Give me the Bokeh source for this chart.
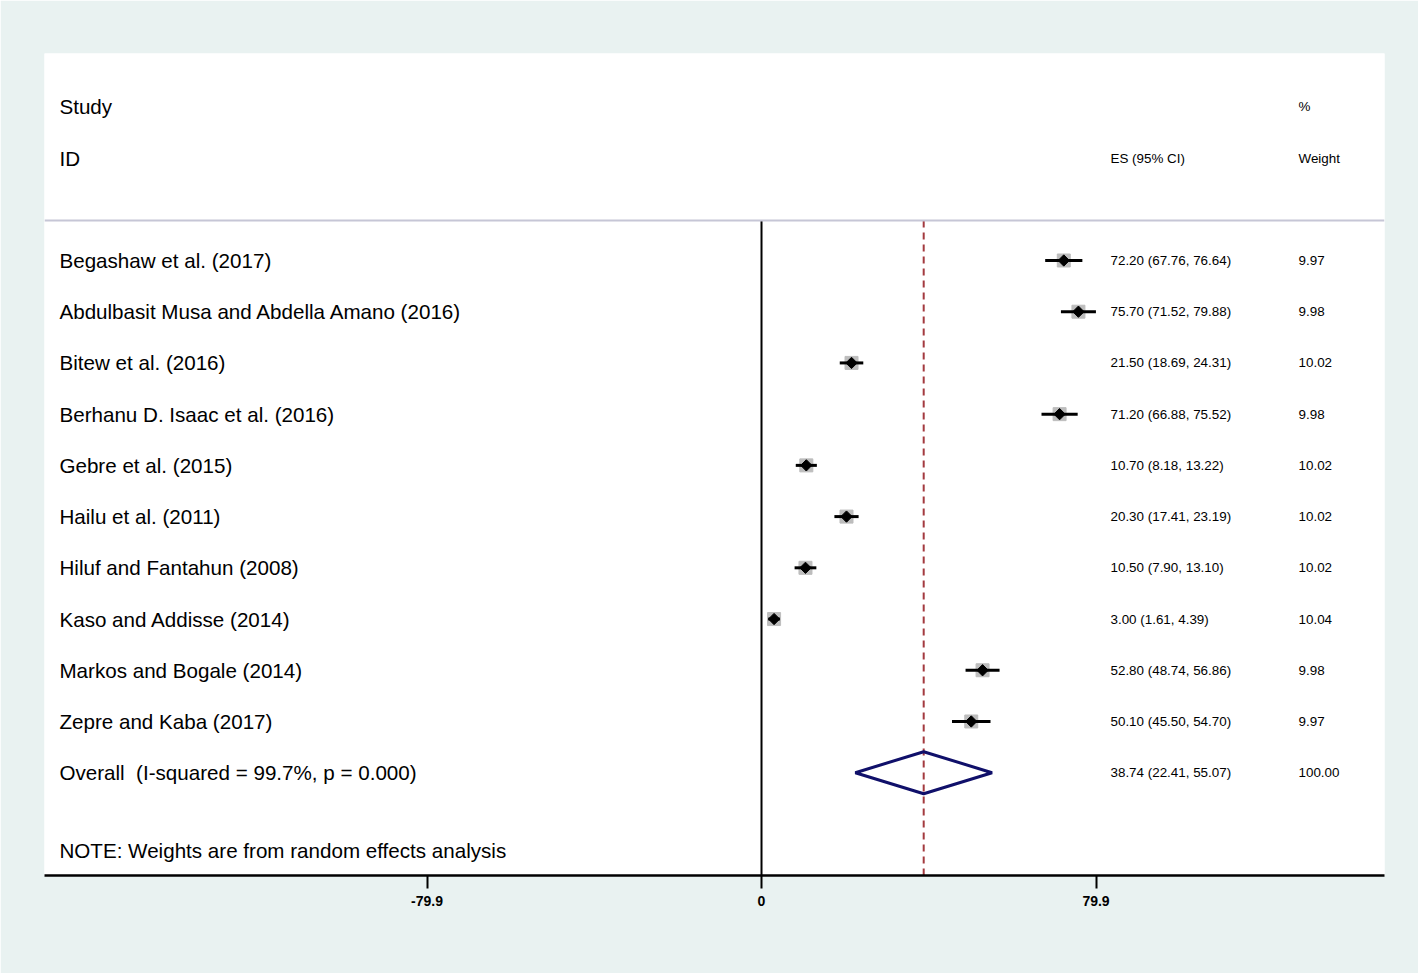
from bokeh.plotting import figure
from bokeh.models import Range1d, FixedTicker, Span, ColumnDataSource
from bokeh.core.properties import value
from bokeh.embed import file_html
from bokeh.resources import INLINE

# ---- data ----
studies = [
    "Begashaw et al. (2017)",
    "Abdulbasit Musa and Abdella Amano (2016)",
    "Bitew et al. (2016)",
    "Berhanu D. Isaac et al. (2016)",
    "Gebre et al. (2015)",
    "Hailu et al. (2011)",
    "Hiluf and Fantahun (2008)",
    "Kaso and Addisse (2014)",
    "Markos and Bogale (2014)",
    "Zepre and Kaba (2017)",
]
es = [72.20, 75.70, 21.50, 71.20, 10.70, 20.30, 10.50, 3.00, 52.80, 50.10]
lo = [67.76, 71.52, 18.69, 66.88, 8.18, 17.41, 7.90, 1.61, 48.74, 45.50]
hi = [76.64, 79.88, 24.31, 75.52, 13.22, 23.19, 13.10, 4.39, 56.86, 54.70]
weights = [9.97, 9.98, 10.02, 9.98, 10.02, 10.02, 10.02, 10.04, 9.98, 9.97]

overall_label = "Overall\u00a0 (I-squared = 99.7%, p = 0.000)"
overall_es, overall_lo, overall_hi, overall_w = 38.74, 22.41, 55.07, 100.00
note = "NOTE: Weights are from random effects analysis"
tick_values = [-79.9, 0, 79.9]
tick_labels = ["-79.9", "0", "79.9"]

# ---- layout helpers ----
rows = list(range(1, len(studies) + 1))
overall_row = len(studies) + 1
note_row = overall_row + 1.52
sep_row = 0.22
bottom_row = 13.007
x_label = -167.7
x_es = 83.36
x_w = 128.27
FONT = value("Liberation Sans")
BIG = "20.6px"
SMALL = "13.4px"

p = figure(width=1418, height=973, output_backend="svg", toolbar_location=None,
           x_range=Range1d(-171.27, 148.81), y_range=Range1d(bottom_row, -3.041),
           y_axis_location=None, min_border_left=44, min_border_right=34,
           min_border_top=53, min_border_bottom=98)
p.background_fill_color = "white"
p.border_fill_color = "#e9f2f1"
p.outline_line_color = None
p.xgrid.visible = False
p.ygrid.visible = False

ax = p.xaxis[0]
ax.ticker = FixedTicker(ticks=tick_values)
ax.major_label_overrides = {t: s for t, s in zip(tick_values, tick_labels)}
ax.minor_tick_line_color = None
ax.axis_line_width = 2.5
ax.axis_line_color = "black"
ax.major_tick_line_width = 2
ax.major_tick_out = 13
ax.major_tick_in = 0
ax.major_label_standoff = 7
ax.major_label_text_font = "Liberation Sans Narrow, Liberation Sans"
ax.major_label_text_font_style = "bold"
ax.major_label_text_font_size = "14px"
ax.major_label_text_color = "black"

# separator line
p.add_layout(Span(location=sep_row, dimension="width", line_color="#c6c6d6", line_width=2))

# null line at 0 and overall dashed line
p.segment(x0=[0], y0=[sep_row], x1=[0], y1=[bottom_row], line_color="black", line_width=2)
p.segment(x0=[overall_es], y0=[sep_row], x1=[overall_es], y1=[bottom_row],
          line_color="#a33a3f", line_width=2, line_dash="7 5")

src = ColumnDataSource(dict(
    y=rows, es=es, lo=lo, hi=hi, study=studies,
    size=[13 * (w / 10) ** 0.5 for w in weights],
    estxt=[f"{e:.2f} ({l:.2f}, {h:.2f})" for e, l, h in zip(es, lo, hi)],
    wtxt=[f"{w:.2f}" for w in weights],
    xl=[x_label] * len(studies), xe=[x_es] * len(studies), xw=[x_w] * len(studies),
))

p.scatter(x="es", y="y", size="size", marker="square", color="#bdbdbd", source=src)
p.segment(x0="lo", y0="y", x1="hi", y1="y", line_color="black", line_width=3, source=src)
p.scatter(x="es", y="y", size=8, marker="square", angle=0.785398, color="black", source=src)

# overall diamond
h = 0.41
p.patch(x=[overall_lo, overall_es, overall_hi, overall_es],
        y=[overall_row, overall_row - h, overall_row, overall_row + h],
        fill_color="white", fill_alpha=0, line_color="#10106a", line_width=3)

# texts
p.text(x="xl", y="y", text="study", source=src, text_font=FONT, text_font_size=BIG,
       text_baseline="middle", text_align="left", text_color="black")
p.text(x="xe", y="y", text="estxt", source=src, text_font=FONT, text_font_size=SMALL,
       text_baseline="middle", text_align="left", text_color="black")
p.text(x="xw", y="y", text="wtxt", source=src, text_font=FONT, text_font_size=SMALL,
       text_baseline="middle", text_align="left", text_color="black")

p.text(x=[x_label, x_label, x_label], y=[-2, -1, overall_row],
       text=["Study", "ID", overall_label], text_font=FONT, text_font_size=BIG,
       text_baseline="middle", text_align="left", text_color="black")
p.text(x=[x_label], y=[note_row], text=[note], text_font=FONT, text_font_size=BIG,
       text_baseline="middle", text_align="left", text_color="black")
p.text(x=[x_es, x_es], y=[-1, overall_row],
       text=["ES (95% CI)", f"{overall_es:.2f} ({overall_lo:.2f}, {overall_hi:.2f})"],
       text_font=FONT, text_font_size=SMALL, text_baseline="middle", text_align="left",
       text_color="black")
p.text(x=[x_w, x_w, x_w], y=[-2, -1, overall_row],
       text=["%", "Weight", f"{overall_w:.2f}"],
       text_font=FONT, text_font_size=SMALL, text_baseline="middle", text_align="left",
       text_color="black")

open("out.html", "w").write(file_html(p, INLINE))
